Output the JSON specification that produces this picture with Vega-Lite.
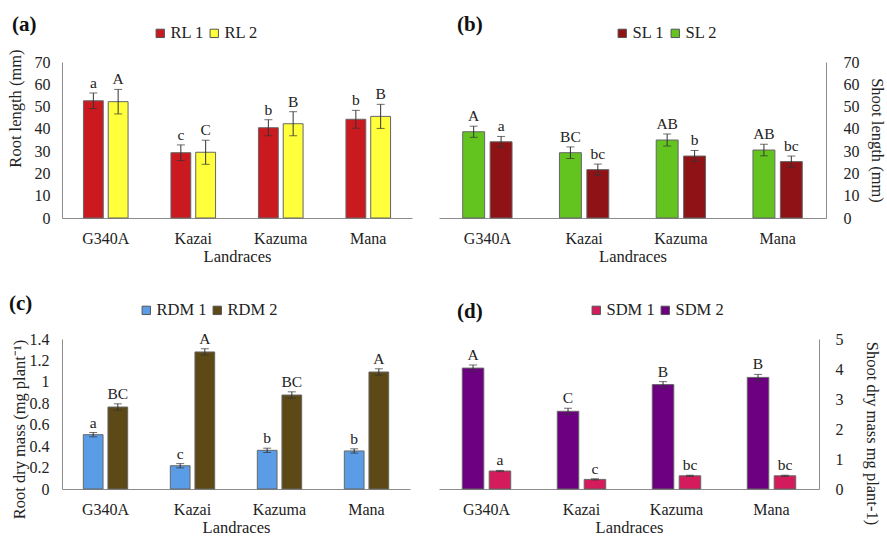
{
  "$schema": "https://vega.github.io/schema/vega-lite/v6.json",
  "padding": {"left": 7, "top": 14, "right": 5, "bottom": 0},
  "background": "white",
  "config": {
    "font": "Liberation Serif",
    "view": {"stroke": null},
    "axis": {"grid": false, "ticks": false, "domainColor": "#8c8c8c", "labelColor": "#222", "titleColor": "#222", "labelFont": "Liberation Serif", "titleFont": "Liberation Serif", "labelFontSize": 16, "titleFontSize": 16.5, "titleFontWeight": "normal", "labelOverlap": false},
    "legend": {"labelFont": "Liberation Serif", "labelFontSize": 16.5, "labelColor": "#222", "symbolType": "square", "symbolSize": 70, "symbolStrokeColor": "#555", "symbolStrokeWidth": 1, "columnPadding": 2, "labelOffset": 2},
    "text": {"font": "Liberation Serif"},
    "title": {"font": "Liberation Serif", "fontSize": 21, "fontWeight": "bold", "color": "#111", "anchor": "start", "frame": "group"}
  },
  "datasets": {
    "rl": [
      {"landrace": "G340A", "series": "RL 1", "value": 52.6, "lo": 49.1, "hi": 56.1, "letter": "a"},
      {"landrace": "G340A", "series": "RL 2", "value": 52.2, "lo": 46.7, "hi": 57.7, "letter": "A"},
      {"landrace": "Kazai", "series": "RL 1", "value": 29.3, "lo": 25.8, "hi": 32.8, "letter": "c"},
      {"landrace": "Kazai", "series": "RL 2", "value": 29.5, "lo": 24.1, "hi": 34.9, "letter": "C"},
      {"landrace": "Kazuma", "series": "RL 1", "value": 40.5, "lo": 36.9, "hi": 44.1, "letter": "b"},
      {"landrace": "Kazuma", "series": "RL 2", "value": 42.3, "lo": 36.9, "hi": 47.7, "letter": "B"},
      {"landrace": "Mana", "series": "RL 1", "value": 44.3, "lo": 40.3, "hi": 48.3, "letter": "b"},
      {"landrace": "Mana", "series": "RL 2", "value": 45.6, "lo": 40.2, "hi": 51.0, "letter": "B"}
    ],
    "sl": [
      {"landrace": "G340A", "series": "SL 2", "value": 38.7, "lo": 36.2, "hi": 41.2, "letter": "A"},
      {"landrace": "G340A", "series": "SL 1", "value": 34.2, "lo": 31.8, "hi": 36.6, "letter": "a"},
      {"landrace": "Kazai", "series": "SL 2", "value": 29.3, "lo": 26.7, "hi": 31.9, "letter": "BC"},
      {"landrace": "Kazai", "series": "SL 1", "value": 21.7, "lo": 19.2, "hi": 24.2, "letter": "bc"},
      {"landrace": "Kazuma", "series": "SL 2", "value": 35.0, "lo": 32.3, "hi": 37.7, "letter": "AB"},
      {"landrace": "Kazuma", "series": "SL 1", "value": 27.8, "lo": 25.3, "hi": 30.3, "letter": "b"},
      {"landrace": "Mana", "series": "SL 2", "value": 30.5, "lo": 27.9, "hi": 33.1, "letter": "AB"},
      {"landrace": "Mana", "series": "SL 1", "value": 25.3, "lo": 22.8, "hi": 27.8, "letter": "bc"}
    ],
    "rdm": [
      {"landrace": "G340A", "series": "RDM 1", "value": 0.507, "lo": 0.487, "hi": 0.527, "letter": "a"},
      {"landrace": "G340A", "series": "RDM 2", "value": 0.765, "lo": 0.735, "hi": 0.795, "letter": "BC"},
      {"landrace": "Kazai", "series": "RDM 1", "value": 0.217, "lo": 0.197, "hi": 0.237, "letter": "c"},
      {"landrace": "Kazai", "series": "RDM 2", "value": 1.279, "lo": 1.249, "hi": 1.309, "letter": "A"},
      {"landrace": "Kazuma", "series": "RDM 1", "value": 0.361, "lo": 0.341, "hi": 0.381, "letter": "b"},
      {"landrace": "Kazuma", "series": "RDM 2", "value": 0.877, "lo": 0.847, "hi": 0.907, "letter": "BC"},
      {"landrace": "Mana", "series": "RDM 1", "value": 0.355, "lo": 0.335, "hi": 0.375, "letter": "b"},
      {"landrace": "Mana", "series": "RDM 2", "value": 1.092, "lo": 1.062, "hi": 1.122, "letter": "A"}
    ],
    "sdm": [
      {"landrace": "G340A", "series": "SDM 2", "value": 4.03, "lo": 3.93, "hi": 4.13, "letter": "A"},
      {"landrace": "G340A", "series": "SDM 1", "value": 0.6, "lo": 0.58, "hi": 0.62, "letter": "a"},
      {"landrace": "Kazai", "series": "SDM 2", "value": 2.59, "lo": 2.49, "hi": 2.69, "letter": "C"},
      {"landrace": "Kazai", "series": "SDM 1", "value": 0.32, "lo": 0.3, "hi": 0.34, "letter": "c"},
      {"landrace": "Kazuma", "series": "SDM 2", "value": 3.48, "lo": 3.38, "hi": 3.58, "letter": "B"},
      {"landrace": "Kazuma", "series": "SDM 1", "value": 0.44, "lo": 0.42, "hi": 0.46, "letter": "bc"},
      {"landrace": "Mana", "series": "SDM 2", "value": 3.72, "lo": 3.62, "hi": 3.82, "letter": "B"},
      {"landrace": "Mana", "series": "SDM 1", "value": 0.44, "lo": 0.42, "hi": 0.46, "letter": "bc"}
    ]
  },
  "columns": 2,
  "bounds": "flush",
  "spacing": {"row": 121, "column": 27},
  "resolve": {"scale": {"color": "independent", "y": "independent", "x": "independent", "xOffset": "independent"}, "legend": {"color": "independent"}, "axis": {"x": "independent", "y": "independent"}},
  "concat": [
    {
      "width": 350, "height": 156,
      "data": {"name": "rl"},
      "title": {"text": "(a)", "dx": -50, "dy": 14},
      "encoding": {
        "x": {"field": "landrace", "type": "nominal", "sort": ["G340A", "Kazai", "Kazuma", "Mana"], "scale": {"paddingInner": 0.49, "paddingOuter": 0.245}, "axis": {"labelAngle": 0, "labelPadding": 12, "titlePadding": 2}, "title": "Landraces"},
        "xOffset": {"field": "series", "sort": ["RL 1", "RL 2"], "scale": {"paddingInner": 0.2, "paddingOuter": 0}}
      },
      "layer": [
        {"mark": {"type": "bar", "stroke": "#666", "strokeWidth": 1},
         "encoding": {
           "y": {"field": "value", "type": "quantitative", "scale": {"domain": [0, 70]}, "axis": {"values": [0, 10, 20, 30, 40, 50, 60, 70], "labelOverlap": false, "labelPadding": 12, "titlePadding": 11, "titleY": 46}, "title": "Root length (mm)"},
           "color": {"field": "series", "type": "nominal", "scale": {"domain": ["RL 1", "RL 2"], "range": ["#cb1a1f", "#ffff3b"]}, "legend": {"title": null, "orient": "none", "direction": "horizontal", "legendX": 90, "legendY": -37}}
         }},
        {"mark": {"type": "rule", "color": "#333", "strokeWidth": 1},
         "encoding": {"y": {"field": "lo", "type": "quantitative", "scale": {"domain": [0, 70]}, "axis": {"values": [0, 10, 20, 30, 40, 50, 60, 70], "labelOverlap": false, "labelPadding": 12, "titlePadding": 11, "titleY": 46}, "title": "Root length (mm)"}, "y2": {"field": "hi"}}},
        {"mark": {"type": "tick", "color": "#333", "thickness": 1, "size": 8},
         "encoding": {"y": {"field": "hi", "type": "quantitative", "scale": {"domain": [0, 70]}, "axis": {"values": [0, 10, 20, 30, 40, 50, 60, 70], "labelOverlap": false, "labelPadding": 12, "titlePadding": 11, "titleY": 46}, "title": "Root length (mm)"}}},
        {"mark": {"type": "tick", "color": "#333", "thickness": 1, "size": 8},
         "encoding": {"y": {"field": "lo", "type": "quantitative", "scale": {"domain": [0, 70]}, "axis": {"values": [0, 10, 20, 30, 40, 50, 60, 70], "labelOverlap": false, "labelPadding": 12, "titlePadding": 11, "titleY": 46}, "title": "Root length (mm)"}}},
        {"mark": {"type": "text", "baseline": "bottom", "dy": -2, "fontSize": 15.5, "color": "#222"},
         "encoding": {"y": {"field": "hi", "type": "quantitative", "scale": {"domain": [0, 70]}, "axis": {"values": [0, 10, 20, 30, 40, 50, 60, 70], "labelOverlap": false, "labelPadding": 12, "titlePadding": 11, "titleY": 46}, "title": "Root length (mm)"}, "text": {"field": "letter"}}}
      ]
    },
    {
      "width": 387, "height": 156,
      "data": {"name": "sl"},
      "title": {"text": "(b)", "dx": 18, "dy": 14},
      "encoding": {
        "x": {"field": "landrace", "type": "nominal", "sort": ["G340A", "Kazai", "Kazuma", "Mana"], "scale": {"paddingInner": 0.49, "paddingOuter": 0.245}, "axis": {"labelAngle": 0, "labelPadding": 12, "titlePadding": 2}, "title": "Landraces"},
        "xOffset": {"field": "series", "sort": ["SL 2", "SL 1"], "scale": {"paddingInner": 0.2, "paddingOuter": 0}}
      },
      "layer": [
        {"mark": {"type": "bar", "stroke": "#666", "strokeWidth": 1},
         "encoding": {
           "y": {"field": "value", "type": "quantitative", "scale": {"domain": [0, 70]}, "axis": {"orient": "right", "values": [0, 10, 20, 30, 40, 50, 60, 70], "labelOverlap": false, "labelPadding": 17, "titlePadding": 9}, "title": "Shoot length (mm)"},
           "color": {"field": "series", "type": "nominal", "scale": {"domain": ["SL 1", "SL 2"], "range": ["#8e1216", "#64c41f"]}, "legend": {"title": null, "orient": "none", "direction": "horizontal", "legendX": 175, "legendY": -37}}
         }},
        {"mark": {"type": "rule", "color": "#333", "strokeWidth": 1},
         "encoding": {"y": {"field": "lo", "type": "quantitative", "scale": {"domain": [0, 70]}, "axis": {"orient": "right", "values": [0, 10, 20, 30, 40, 50, 60, 70], "labelOverlap": false, "labelPadding": 17, "titlePadding": 9}, "title": "Shoot length (mm)"}, "y2": {"field": "hi"}}},
        {"mark": {"type": "tick", "color": "#333", "thickness": 1, "size": 8},
         "encoding": {"y": {"field": "hi", "type": "quantitative", "scale": {"domain": [0, 70]}, "axis": {"orient": "right", "values": [0, 10, 20, 30, 40, 50, 60, 70], "labelOverlap": false, "labelPadding": 17, "titlePadding": 9}, "title": "Shoot length (mm)"}}},
        {"mark": {"type": "tick", "color": "#333", "thickness": 1, "size": 8},
         "encoding": {"y": {"field": "lo", "type": "quantitative", "scale": {"domain": [0, 70]}, "axis": {"orient": "right", "values": [0, 10, 20, 30, 40, 50, 60, 70], "labelOverlap": false, "labelPadding": 17, "titlePadding": 9}, "title": "Shoot length (mm)"}}},
        {"mark": {"type": "text", "baseline": "bottom", "dy": -2, "fontSize": 15.5, "color": "#222"},
         "encoding": {"y": {"field": "hi", "type": "quantitative", "scale": {"domain": [0, 70]}, "axis": {"orient": "right", "values": [0, 10, 20, 30, 40, 50, 60, 70], "labelOverlap": false, "labelPadding": 17, "titlePadding": 9}, "title": "Shoot length (mm)"}, "text": {"field": "letter"}}}
      ]
    },
    {
      "width": 348, "height": 150,
      "data": {"name": "rdm"},
      "title": {"text": "(c)", "dx": -53, "dy": 16},
      "encoding": {
        "x": {"field": "landrace", "type": "nominal", "sort": ["G340A", "Kazai", "Kazuma", "Mana"], "scale": {"paddingInner": 0.49, "paddingOuter": 0.245}, "axis": {"labelAngle": 0, "labelPadding": 12, "titlePadding": 2}, "title": "Landraces"},
        "xOffset": {"field": "series", "sort": ["RDM 1", "RDM 2"], "scale": {"paddingInner": 0.2, "paddingOuter": 0}}
      },
      "layer": [
        {"mark": {"type": "bar", "stroke": "#666", "strokeWidth": 1},
         "encoding": {
           "y": {"field": "value", "type": "quantitative", "scale": {"domain": [0, 1.4]}, "axis": {"values": [0, 0.2, 0.4, 0.6, 0.8, 1, 1.2, 1.4], "format": "~g", "labelOverlap": false, "labelPadding": 13, "titlePadding": 2, "titleY": 90}, "title": "Root dry mass (mg plant⁻¹)"},
           "color": {"field": "series", "type": "nominal", "scale": {"domain": ["RDM 1", "RDM 2"], "range": ["#5b9ce7", "#5d4915"]}, "legend": {"title": null, "orient": "none", "direction": "horizontal", "legendX": 76, "legendY": -37}}
         }},
        {"mark": {"type": "rule", "color": "#333", "strokeWidth": 1},
         "encoding": {"y": {"field": "lo", "type": "quantitative", "scale": {"domain": [0, 1.4]}, "axis": {"values": [0, 0.2, 0.4, 0.6, 0.8, 1, 1.2, 1.4], "format": "~g", "labelOverlap": false, "labelPadding": 13, "titlePadding": 2, "titleY": 90}, "title": "Root dry mass (mg plant⁻¹)"}, "y2": {"field": "hi"}}},
        {"mark": {"type": "tick", "color": "#333", "thickness": 1, "size": 8},
         "encoding": {"y": {"field": "hi", "type": "quantitative", "scale": {"domain": [0, 1.4]}, "axis": {"values": [0, 0.2, 0.4, 0.6, 0.8, 1, 1.2, 1.4], "format": "~g", "labelOverlap": false, "labelPadding": 13, "titlePadding": 2, "titleY": 90}, "title": "Root dry mass (mg plant⁻¹)"}}},
        {"mark": {"type": "tick", "color": "#333", "thickness": 1, "size": 8},
         "encoding": {"y": {"field": "lo", "type": "quantitative", "scale": {"domain": [0, 1.4]}, "axis": {"values": [0, 0.2, 0.4, 0.6, 0.8, 1, 1.2, 1.4], "format": "~g", "labelOverlap": false, "labelPadding": 13, "titlePadding": 2, "titleY": 90}, "title": "Root dry mass (mg plant⁻¹)"}}},
        {"mark": {"type": "text", "baseline": "bottom", "dy": -2, "fontSize": 15.5, "color": "#222"},
         "encoding": {"y": {"field": "hi", "type": "quantitative", "scale": {"domain": [0, 1.4]}, "axis": {"values": [0, 0.2, 0.4, 0.6, 0.8, 1, 1.2, 1.4], "format": "~g", "labelOverlap": false, "labelPadding": 13, "titlePadding": 2, "titleY": 90}, "title": "Root dry mass (mg plant⁻¹)"}, "text": {"field": "letter"}}}
      ]
    },
    {
      "width": 380, "height": 150,
      "data": {"name": "sdm"},
      "title": {"text": "(d)", "dx": 18, "dy": 24},
      "encoding": {
        "x": {"field": "landrace", "type": "nominal", "sort": ["G340A", "Kazai", "Kazuma", "Mana"], "scale": {"paddingInner": 0.49, "paddingOuter": 0.245}, "axis": {"labelAngle": 0, "labelPadding": 12, "titlePadding": 2}, "title": "Landraces"},
        "xOffset": {"field": "series", "sort": ["SDM 2", "SDM 1"], "scale": {"paddingInner": 0.2, "paddingOuter": 0}}
      },
      "layer": [
        {"mark": {"type": "bar", "stroke": "#666", "strokeWidth": 1},
         "encoding": {
           "y": {"field": "value", "type": "quantitative", "scale": {"domain": [0, 5]}, "axis": {"orient": "right", "values": [0, 1, 2, 3, 4, 5], "labelOverlap": false, "labelPadding": 16, "titlePadding": 20, "titleY": 94}, "title": "Shoot dry mass mg plant-1)"},
           "color": {"field": "series", "type": "nominal", "scale": {"domain": ["SDM 1", "SDM 2"], "range": ["#d41b5b", "#6c0080"]}, "legend": {"title": null, "orient": "none", "direction": "horizontal", "legendX": 149, "legendY": -37}}
         }},
        {"mark": {"type": "rule", "color": "#333", "strokeWidth": 1},
         "encoding": {"y": {"field": "lo", "type": "quantitative", "scale": {"domain": [0, 5]}, "axis": {"orient": "right", "values": [0, 1, 2, 3, 4, 5], "labelOverlap": false, "labelPadding": 16, "titlePadding": 20, "titleY": 94}, "title": "Shoot dry mass mg plant-1)"}, "y2": {"field": "hi"}}},
        {"mark": {"type": "tick", "color": "#333", "thickness": 1, "size": 8},
         "encoding": {"y": {"field": "hi", "type": "quantitative", "scale": {"domain": [0, 5]}, "axis": {"orient": "right", "values": [0, 1, 2, 3, 4, 5], "labelOverlap": false, "labelPadding": 16, "titlePadding": 20, "titleY": 94}, "title": "Shoot dry mass mg plant-1)"}}},
        {"mark": {"type": "tick", "color": "#333", "thickness": 1, "size": 8},
         "encoding": {"y": {"field": "lo", "type": "quantitative", "scale": {"domain": [0, 5]}, "axis": {"orient": "right", "values": [0, 1, 2, 3, 4, 5], "labelOverlap": false, "labelPadding": 16, "titlePadding": 20, "titleY": 94}, "title": "Shoot dry mass mg plant-1)"}}},
        {"mark": {"type": "text", "baseline": "bottom", "dy": -2, "fontSize": 15.5, "color": "#222"},
         "encoding": {"y": {"field": "hi", "type": "quantitative", "scale": {"domain": [0, 5]}, "axis": {"orient": "right", "values": [0, 1, 2, 3, 4, 5], "labelOverlap": false, "labelPadding": 16, "titlePadding": 20, "titleY": 94}, "title": "Shoot dry mass mg plant-1)"}, "text": {"field": "letter"}}}
      ]
    }
  ]
}
